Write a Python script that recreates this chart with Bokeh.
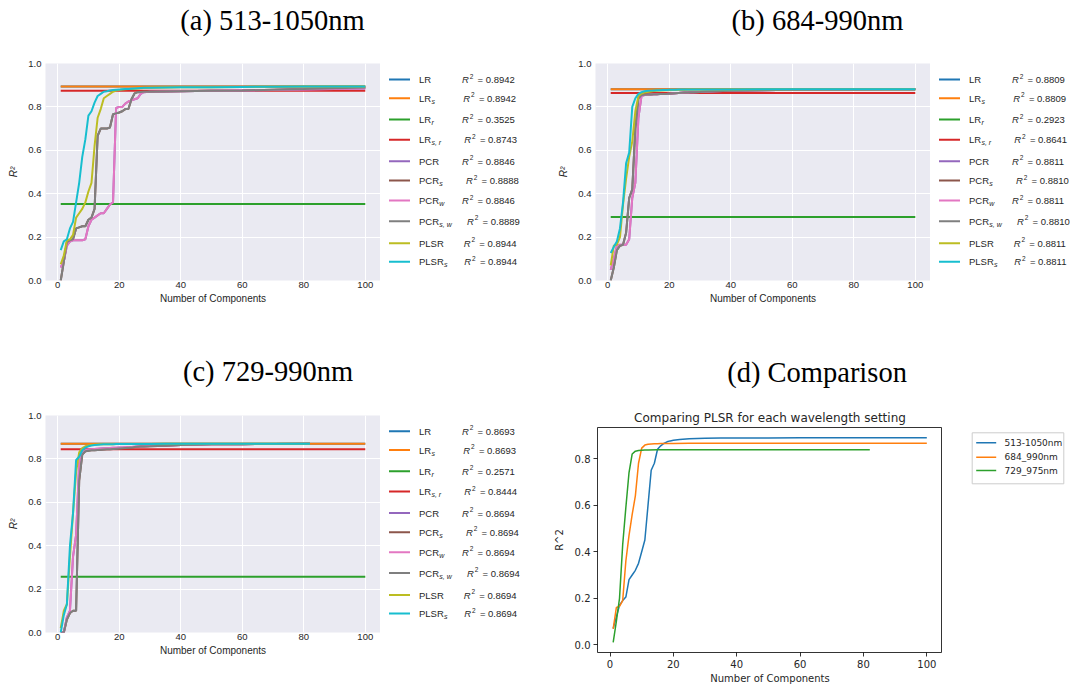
from bokeh.core.properties import value
from bokeh.embed import file_html
from bokeh.layouts import column, row
from bokeh.models import FixedTicker, PrintfTickFormatter, Range1d, Title
from bokeh.plotting import figure
from bokeh.resources import INLINE

# ---------------------------------------------------------------- data
model_names = ["LR", "LR", "LR", "LR", "PCR", "PCR", "PCR", "PCR", "PLSR", "PLSR"]
model_subscripts = ["", "s", "r", "s, r", "", "s", "w", "s, w", "", "s"]
component_span = [1, 100]
x_ticks = [0, 20, 40, 60, 80, 100]
y_ticks_grid = [0.0, 0.2, 0.4, 0.6, 0.8, 1.0]
y_ticks_cmp = [0.0, 0.2, 0.4, 0.6, 0.8]

panel_titles = ["(a) 513-1050nm", "(b) 684-990nm", "(c) 729-990nm", "(d) Comparison"]

r2_a = [0.8942, 0.8942, 0.3525, 0.8743, 0.8846, 0.8888, 0.8846, 0.8889, 0.8944, 0.8944]
r2_b = [0.8809, 0.8809, 0.2923, 0.8641, 0.8811, 0.8810, 0.8811, 0.8810, 0.8811, 0.8811]
r2_c = [0.8693, 0.8693, 0.2571, 0.8444, 0.8694, 0.8694, 0.8694, 0.8694, 0.8694, 0.8694]

components_ab = list(range(1, 29)) + [30, 35, 40, 50, 60, 70, 80, 90, 100]
components_c = list(range(1, 29)) + [30, 35, 40, 50, 60, 70, 82]

# 513-1050nm
pcr_a = [0.06, 0.09, 0.16, 0.18, 0.185, 0.185, 0.185, 0.185, 0.19, 0.25, 0.28, 0.29, 0.30, 0.31,
         0.31, 0.33, 0.35, 0.36, 0.795, 0.80, 0.80, 0.815, 0.825, 0.83, 0.835, 0.84, 0.86, 0.868,
         0.870, 0.871, 0.872, 0.874, 0.876, 0.878, 0.880, 0.882, 0.8846]
pcr_s_a = [0.0, 0.086, 0.177, 0.185, 0.19, 0.24, 0.245, 0.25, 0.25, 0.28, 0.29, 0.33, 0.667, 0.70,
           0.70, 0.70, 0.705, 0.766, 0.77, 0.774, 0.78, 0.79, 0.79, 0.835, 0.862, 0.868, 0.869, 0.870,
           0.870, 0.871, 0.872, 0.874, 0.876, 0.879, 0.882, 0.886, 0.8888]
pcr_w_a = [0.06, 0.09, 0.16, 0.18, 0.185, 0.185, 0.185, 0.185, 0.19, 0.25, 0.28, 0.29, 0.30, 0.31,
           0.31, 0.33, 0.35, 0.36, 0.795, 0.80, 0.80, 0.815, 0.825, 0.83, 0.835, 0.84, 0.86, 0.868,
           0.870, 0.871, 0.872, 0.874, 0.876, 0.878, 0.880, 0.882, 0.8846]
pcr_sw_a = [0.0, 0.086, 0.177, 0.185, 0.19, 0.24, 0.245, 0.25, 0.25, 0.28, 0.29, 0.33, 0.667, 0.70,
            0.70, 0.70, 0.705, 0.766, 0.77, 0.774, 0.78, 0.79, 0.79, 0.835, 0.862, 0.868, 0.869, 0.870,
            0.870, 0.871, 0.872, 0.874, 0.876, 0.879, 0.882, 0.886, 0.8889]
plsr_a = [0.075, 0.115, 0.185, 0.19, 0.21, 0.29, 0.31, 0.33, 0.36, 0.41, 0.45, 0.62, 0.75, 0.79,
          0.84, 0.85, 0.86, 0.87, 0.875, 0.878, 0.880, 0.881, 0.882, 0.883, 0.884, 0.885, 0.886, 0.887,
          0.888, 0.889, 0.890, 0.891, 0.892, 0.893, 0.8935, 0.894, 0.8944]
plsr_s_a = [0.14, 0.18, 0.19, 0.24, 0.27, 0.36, 0.45, 0.57, 0.65, 0.76, 0.78, 0.82, 0.85, 0.86,
            0.87, 0.872, 0.876, 0.878, 0.879, 0.880, 0.881, 0.882, 0.883, 0.884, 0.885, 0.886, 0.887, 0.888,
            0.888, 0.889, 0.890, 0.891, 0.892, 0.893, 0.8935, 0.894, 0.8944]

# 684-990nm
pcr_b = [0.05, 0.10, 0.16, 0.165, 0.165, 0.165, 0.19, 0.38, 0.45, 0.75, 0.85, 0.855, 0.856, 0.857,
         0.858, 0.858, 0.859, 0.859, 0.860, 0.861, 0.862, 0.863, 0.864, 0.865, 0.866, 0.866, 0.867, 0.868,
         0.869, 0.872, 0.874, 0.877, 0.879, 0.880, 0.8805, 0.8808, 0.8811]
pcr_s_b = [0.0, 0.06, 0.14, 0.16, 0.165, 0.22, 0.38, 0.42, 0.70, 0.84, 0.855, 0.856, 0.857, 0.857,
           0.858, 0.858, 0.859, 0.859, 0.860, 0.861, 0.862, 0.863, 0.864, 0.865, 0.866, 0.866, 0.867, 0.868,
           0.869, 0.872, 0.874, 0.877, 0.879, 0.880, 0.8805, 0.8808, 0.8810]
pcr_w_b = [0.05, 0.10, 0.16, 0.165, 0.165, 0.165, 0.19, 0.38, 0.45, 0.75, 0.85, 0.855, 0.856, 0.857,
           0.858, 0.858, 0.859, 0.859, 0.860, 0.861, 0.862, 0.863, 0.864, 0.865, 0.866, 0.866, 0.867, 0.868,
           0.869, 0.872, 0.874, 0.877, 0.879, 0.880, 0.8805, 0.8808, 0.8811]
pcr_sw_b = [0.0, 0.06, 0.14, 0.16, 0.165, 0.22, 0.38, 0.42, 0.70, 0.84, 0.855, 0.856, 0.857, 0.857,
            0.858, 0.858, 0.859, 0.859, 0.860, 0.861, 0.862, 0.863, 0.864, 0.865, 0.866, 0.866, 0.867, 0.868,
            0.869, 0.872, 0.874, 0.877, 0.879, 0.880, 0.8805, 0.8808, 0.8810]
plsr_b = [0.07, 0.16, 0.165, 0.20, 0.35, 0.47, 0.57, 0.64, 0.78, 0.85, 0.862, 0.866, 0.869, 0.871,
          0.873, 0.874, 0.875, 0.876, 0.877, 0.877, 0.878, 0.878, 0.879, 0.879, 0.879, 0.880, 0.880, 0.880,
          0.8805, 0.8806, 0.8807, 0.8808, 0.8809, 0.8810, 0.8810, 0.8811, 0.8811]
plsr_s_b = [0.127, 0.155, 0.18, 0.24, 0.36, 0.54, 0.59, 0.80, 0.84, 0.86, 0.868, 0.872, 0.874, 0.875,
            0.876, 0.877, 0.877, 0.878, 0.878, 0.879, 0.879, 0.879, 0.880, 0.880, 0.880, 0.880, 0.880, 0.880,
            0.8805, 0.8806, 0.8807, 0.8808, 0.8809, 0.8810, 0.8810, 0.8811, 0.8811]

# 729-990nm
pcr_c = [0.0, 0.0, 0.07, 0.10, 0.35, 0.45, 0.78, 0.83, 0.840, 0.843, 0.845, 0.846, 0.847, 0.848,
         0.849, 0.849, 0.850, 0.851, 0.851, 0.852, 0.853, 0.854, 0.855, 0.855, 0.856, 0.857, 0.857, 0.858,
         0.859, 0.862, 0.864, 0.867, 0.868, 0.869, 0.8694]
pcr_s_c = [0.0, 0.0, 0.06, 0.09, 0.10, 0.10, 0.70, 0.82, 0.835, 0.838, 0.840, 0.840, 0.841, 0.842,
           0.843, 0.844, 0.845, 0.846, 0.847, 0.848, 0.849, 0.850, 0.851, 0.852, 0.855, 0.856, 0.857, 0.857,
           0.858, 0.861, 0.864, 0.867, 0.868, 0.869, 0.8694]
pcr_w_c = [0.0, 0.0, 0.07, 0.10, 0.35, 0.45, 0.78, 0.83, 0.840, 0.843, 0.845, 0.846, 0.847, 0.848,
           0.849, 0.849, 0.850, 0.851, 0.851, 0.852, 0.853, 0.854, 0.855, 0.855, 0.856, 0.857, 0.857, 0.858,
           0.859, 0.862, 0.864, 0.867, 0.868, 0.869, 0.8694]
pcr_sw_c = [0.0, 0.0, 0.06, 0.09, 0.10, 0.10, 0.70, 0.82, 0.835, 0.838, 0.840, 0.840, 0.841, 0.842,
            0.843, 0.844, 0.845, 0.846, 0.847, 0.848, 0.849, 0.850, 0.851, 0.852, 0.855, 0.856, 0.857, 0.857,
            0.858, 0.861, 0.864, 0.867, 0.868, 0.869, 0.8694]
plsr_c = [0.02, 0.10, 0.13, 0.35, 0.55, 0.74, 0.83, 0.85, 0.858, 0.862, 0.864, 0.865, 0.866, 0.867,
          0.867, 0.8675, 0.868, 0.868, 0.8685, 0.8685, 0.869, 0.869, 0.869, 0.869, 0.869, 0.869, 0.869, 0.869,
          0.8692, 0.8693, 0.8693, 0.8694, 0.8694, 0.8694, 0.8694]
plsr_s_c = [0.0, 0.08, 0.13, 0.40, 0.55, 0.795, 0.81, 0.84, 0.852, 0.858, 0.862, 0.864, 0.865, 0.866,
            0.867, 0.8675, 0.868, 0.868, 0.8685, 0.8685, 0.869, 0.869, 0.869, 0.869, 0.869, 0.869, 0.869, 0.869,
            0.8692, 0.8693, 0.8693, 0.8694, 0.8694, 0.8694, 0.8694]

# PLSR comparison across wavelength settings
cmp_labels = ["513-1050nm", "684_990nm", "729_975nm"]
cmp_components_513 = list(range(1, 21)) + [22, 25, 30, 35, 40, 50, 60, 70, 80, 90, 100]
cmp_r2_513 = [0.07, 0.12, 0.17, 0.19, 0.205, 0.28, 0.30, 0.32, 0.35, 0.40, 0.45, 0.60, 0.75, 0.78,
              0.84, 0.855, 0.865, 0.872, 0.876, 0.879, 0.882, 0.885, 0.887, 0.888, 0.8885, 0.889,
              0.8892, 0.8894, 0.8895, 0.8896, 0.8896]
cmp_components_684 = list(range(1, 21)) + [25, 30, 40, 50, 60, 70, 80, 90, 100]
cmp_r2_684 = [0.068, 0.16, 0.165, 0.19, 0.36, 0.47, 0.56, 0.64, 0.78, 0.845, 0.858, 0.862, 0.863,
              0.864, 0.864, 0.865, 0.865, 0.865, 0.865, 0.865, 0.8655, 0.866, 0.866, 0.866, 0.866,
              0.866, 0.866, 0.866, 0.866]
cmp_components_729 = list(range(1, 13)) + [15, 20, 30, 40, 50, 60, 70, 82]
cmp_r2_729 = [0.0107, 0.10, 0.20, 0.43, 0.59, 0.74, 0.82, 0.832, 0.835, 0.836, 0.837, 0.837,
              0.838, 0.838, 0.838, 0.838, 0.838, 0.838, 0.838, 0.838]

# ---------------------------------------------------------------- style
TAB10 = ["#1f77b4", "#ff7f0e", "#2ca02c", "#d62728", "#9467bd",
         "#8c564b", "#e377c2", "#7f7f7f", "#bcbd22", "#17becf"]
SANS = "Liberation Sans"
SERIF = "Liberation Serif"
DV = "DejaVu Sans"
INK = "#262626"
ROW_H = 343

# key rows: px below the plot frame top; extra shift of the R^2 column per row
KEY_DY = [16.3, 35.0, 56.3, 76.6, 98.0, 117.3, 137.3, 158.0, 180.0, 198.6]
KEY_R2_DX = [0, 1.3, 0, 2.3, 0, 4.0, 0, 5.0, 1.7, 2.3]
NAME_W = {"LR": 12.1, "PCR": 20.0, "PLSR": 24.8}

# comparison legend box (px inside its own strip, y down) and entry rows
CMP_BOX = (29.7, 121.3, 89.3, 140.3)
CMP_ROWS = [99.3, 113.7, 127.0]


def blank_figure(width):
    """Axis-free figure whose frame fills the whole box (1 unit = 1 px, y down)."""
    k = figure(width=width, height=ROW_H, x_range=Range1d(0, width), y_range=Range1d(ROW_H, 0),
               x_axis_type=None, y_axis_type=None, output_backend="svg",
               toolbar_location=None, min_border=0, min_border_left=0, min_border_right=0,
               min_border_top=0, min_border_bottom=0, frame_align=False)
    k.outline_line_color = None
    k.background_fill_color = "white"
    k.border_fill_color = "white"
    return k


def add_panel_title(p, text, offset, gap):
    # an empty spacer title keeps the large heading clear of the frame
    p.add_layout(Title(text=" ", text_font_size="1px", standoff=gap), "above")
    p.add_layout(Title(text=text, text_font=SERIF, text_font_size="28.5px",
                       text_font_style="normal", text_color="black",
                       align="left", offset=offset, standoff=0), "above")


def key_figure(width, frame_top, r2):
    """Key: coloured swatch, model name with subscript, R^2 score."""
    k = blank_figure(width)
    ys = [frame_top + d for d in KEY_DY]
    k.segment(x0=[8.5] * 10, y0=ys, x1=[29.5] * 10, y1=ys, line_color=TAB10, line_width=2)
    k.text(x=[38.5] * 10, y=ys, text=model_names, text_font=value(SANS),
           text_font_size="9.5px", text_color=INK, text_baseline="middle")
    sub_i = [i for i in range(10) if model_subscripts[i]]
    k.text(x=[38.8 + NAME_W[model_names[i]] for i in sub_i], y=[ys[i] + 3 for i in sub_i],
           text=[model_subscripts[i] for i in sub_i], text_font=value(SANS),
           text_font_size="7px", text_font_style="italic", text_color=INK,
           text_baseline="middle")
    rx = [81.5 + d for d in KEY_R2_DX]
    k.text(x=rx, y=ys, text=["R"] * 10, text_font=value(SANS), text_font_size="9.5px",
           text_font_style="italic", text_color=INK, text_baseline="middle")
    k.text(x=[x + 7.8 for x in rx], y=[y - 3.5 for y in ys], text=["2"] * 10,
           text_font=value(SANS), text_font_size="6.5px", text_color=INK,
           text_baseline="middle")
    k.text(x=[x + 15.6 for x in rx], y=ys, text=[f"= {v:.4f}" for v in r2],
           text_font=value(SANS), text_font_size="9.5px", text_color=INK,
           text_baseline="middle")
    return k


def grid_panel(title, title_offset, title_gap, r2, comps, curves, width, borders):
    left, right, top, bottom = borders
    p = figure(width=width, height=ROW_H, title=None,
               x_range=Range1d(-3.95, 104.95), y_range=Range1d(0, 1),
               output_backend="svg", toolbar_location=None, frame_align=False,
               min_border_left=left, min_border_right=right,
               min_border_top=top, min_border_bottom=bottom,
               x_axis_label="Number of Components", y_axis_label="R²")
    p.background_fill_color = "#EAEAF2"
    p.border_fill_color = "white"
    p.outline_line_color = None
    p.grid.grid_line_color = "white"
    p.grid.grid_line_width = 1
    p.xaxis.ticker = FixedTicker(ticks=x_ticks)
    p.yaxis.ticker = FixedTicker(ticks=y_ticks_grid)
    p.yaxis.formatter = PrintfTickFormatter(format="%.1f")
    for ax in p.xaxis + p.yaxis:
        ax.axis_line_color = None
        ax.major_tick_line_color = None
        ax.minor_tick_line_color = None
        ax.major_tick_out = 0
        ax.major_tick_in = 0
        ax.minor_tick_out = 0
        ax.minor_tick_in = 0
        ax.major_label_text_font = SANS
        ax.major_label_text_font_size = "9.5px"
        ax.major_label_text_color = INK
        ax.axis_label_text_font = SANS
        ax.axis_label_text_font_size = "10px"
        ax.axis_label_text_color = INK
        ax.axis_label_text_font_style = "normal"
    p.xaxis.major_label_standoff = 1
    p.xaxis.axis_label_standoff = 2
    p.yaxis.major_label_standoff = 4
    p.yaxis.axis_label_standoff = 6
    p.yaxis.axis_label_text_font_style = "italic"

    # LR variants: constant R^2 over the component span
    for i in range(4):
        p.line(component_span, [r2[i], r2[i]], line_color=TAB10[i], line_width=2)
    # PCR / PLSR variants as a function of the number of components
    for j, ys in enumerate(curves):
        p.line(comps, ys, line_color=TAB10[4 + j], line_width=2)

    add_panel_title(p, title, title_offset, title_gap)
    return p


pa = grid_panel(panel_titles[0], 134.8, 25, r2_a, components_ab,
                [pcr_a, pcr_s_a, pcr_w_a, pcr_sw_a, plsr_a, plsr_s_a], 380, (45, 0, 63, 63))
ka = key_figure(160, 62.7, r2_a)
pb = grid_panel(panel_titles[1], 136.1, 25, r2_b, components_ab,
                [pcr_b, pcr_s_b, pcr_w_b, pcr_sw_b, plsr_b, plsr_s_b], 390, (55, 0, 63, 63))
kb = key_figure(149, 62.7, r2_b)
pc = grid_panel(panel_titles[2], 137.4, 26, r2_c, components_c,
                [pcr_c, pcr_s_c, pcr_w_c, pcr_sw_c, plsr_c, plsr_s_c], 380, (45, 0, 72, 54))
kc = key_figure(160, 71.5, r2_c)

# ---- comparison panel (plain white axes)
d_left, d_top, d_bottom = 57, 84, 34
pd_ = figure(width=402, height=ROW_H, title=None,
             x_range=Range1d(-3.95, 104.95), y_range=Range1d(-0.0332, 0.9336),
             output_backend="svg", toolbar_location=None, frame_align=False,
             min_border_left=d_left, min_border_right=0,
             min_border_top=d_top, min_border_bottom=d_bottom,
             x_axis_label="Number of Components", y_axis_label="R^2")
pd_.add_layout(Title(text="Comparing PLSR for each wavelength setting", text_font=DV,
                     text_font_size="12px", text_font_style="normal", text_color="#262626",
                     align="center", standoff=6), "above")
add_panel_title(pd_, panel_titles[3], 129.7, 15)
pd_.background_fill_color = "white"
pd_.border_fill_color = "white"
pd_.outline_line_color = "black"
pd_.outline_line_width = 0.8
pd_.grid.grid_line_color = None
pd_.xaxis.ticker = FixedTicker(ticks=x_ticks)
pd_.yaxis.ticker = FixedTicker(ticks=y_ticks_cmp)
pd_.yaxis.formatter = PrintfTickFormatter(format="%.1f")
for ax in pd_.xaxis + pd_.yaxis:
    ax.axis_line_color = None
    ax.major_tick_line_color = "black"
    ax.major_tick_line_width = 0.8
    ax.major_tick_out = 4
    ax.major_tick_in = 0
    ax.minor_tick_line_color = None
    ax.major_label_text_font = DV
    ax.major_label_text_font_size = "10px"
    ax.major_label_text_color = "#262626"
    ax.axis_label_text_font = DV
    ax.axis_label_text_font_size = "10px"
    ax.axis_label_text_color = "#262626"
    ax.axis_label_text_font_style = "normal"
pd_.xaxis.major_label_standoff = 3
pd_.xaxis.axis_label_standoff = 2
pd_.yaxis.major_label_standoff = 3
pd_.yaxis.axis_label_standoff = 7

cmp_series = [(cmp_components_513, cmp_r2_513), (cmp_components_684, cmp_r2_684),
              (cmp_components_729, cmp_r2_729)]
for k_, (xs, ys) in enumerate(cmp_series):
    pd_.line(xs, ys, line_color=TAB10[k_], line_width=1.5)

# legend of the comparison panel, set beside its frame
kd = blank_figure(137)
bl, br, bt, bb = CMP_BOX
kd.quad(left=[bl], right=[br], top=[bt], bottom=[bb], fill_color="white", fill_alpha=0.8,
        line_color="#cccccc", line_width=1)
kd.segment(x0=[bl + 4] * 3, y0=CMP_ROWS, x1=[bl + 24] * 3, y1=CMP_ROWS,
           line_color=TAB10[:3], line_width=1.5)
kd.text(x=[bl + 32.3] * 3, y=CMP_ROWS, text=cmp_labels, text_font=value(DV),
        text_font_size="9px", text_color="#262626", text_baseline="middle")

layout = column(row(pa, ka, pb, kb), row(pc, kc, pd_, kd))
open("out.html", "w").write(file_html(layout, INLINE))
